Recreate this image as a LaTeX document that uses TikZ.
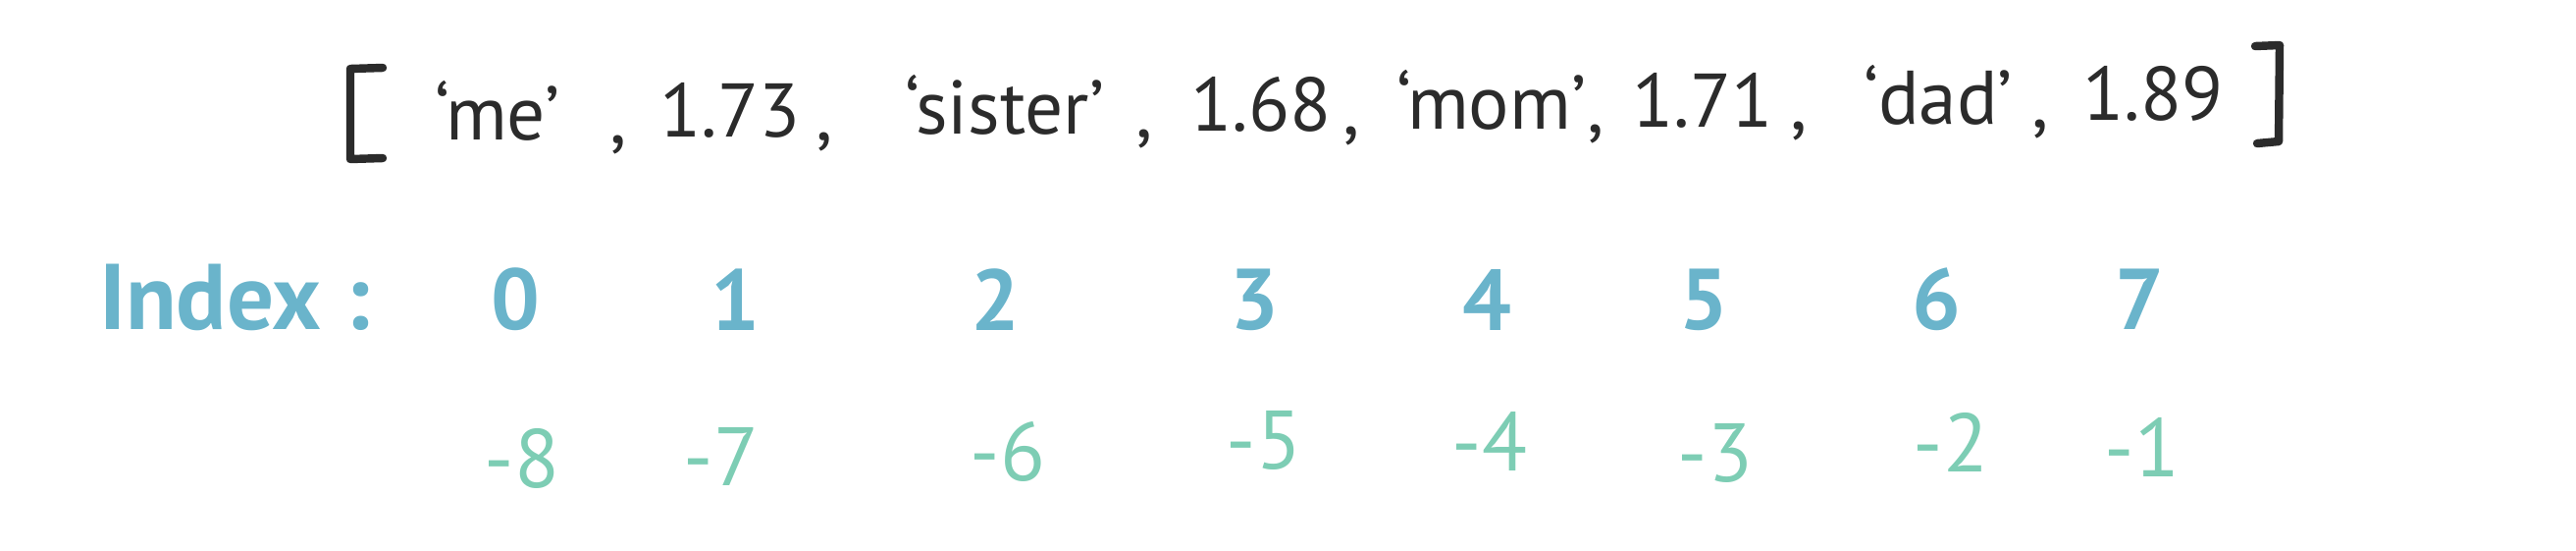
\documentclass[tikz,border=0pt]{standalone}
\usepackage{fontspec}
\setmainfont{PT Sans}
\definecolor{idxblue}{HTML}{6AB4CB}
\definecolor{negreen}{HTML}{7DCDB4}
\definecolor{ink}{HTML}{2B2B2B}
\begin{document}
\begin{tikzpicture}[x=0.01cm,y=-0.01cm,
  item/.style={anchor=base,inner sep=0pt,text=ink,font=\fontsize{22}{26}\selectfont},
  idx/.style={inner sep=0pt,text=idxblue,font=\fontsize{25}{30}\selectfont\bfseries},
  neg/.style={inner sep=0pt,text=negreen,font=\fontsize{24}{28}\selectfont},
  brk/.style={ink,line width=2.4pt,line cap=round,line join=round}]
\useasboundingbox (0,0) rectangle (2625,560);
% list
\draw[brk] (390,69) -- (357,70) -- (357,162) -- (390,161);
\draw[brk] (2298,47) -- (2323,46) -- (2322,144) -- (2300,146);
\foreach \t/\x/\y [count=\i] in {‘me’/507/142, 1.73/744/139, ‘sister’/1024/136, 1.68/1285/133,
  ‘mom’/1520/131, 1.71/1735/129, ‘dad’/1975/126, 1.89/2194/122}
  \node[item] (v\i) at (\x,\y) {\t};
\foreach \x/\y [count=\i] in {630/145, 840/142, 1166/139, 1377/136, 1626/134, 1833/131, 2079/129}
  \node[item] (c\i) at (\x,\y) {,};
% row of indices
\node[idx,font=\fontsize{27}{32}\selectfont\bfseries] (lbl) at (239,303) {Index :};
\foreach \x [count=\i from 0] in {525,749,1014,1278,1515,1736,1973,2180}
  \node[idx] (p\i) at (\x,305) {\i};
% negative indices
\foreach \n/\x/\y in {8/532/467, 7/735/465, 6/1027/460, 5/1288/448, 4/1518/449, 3/1748/461, 2/1988/450, 1/2183/455}
  \node[neg] (n\n) at (\x,\y) {-\n};
\end{tikzpicture}
\end{document}
